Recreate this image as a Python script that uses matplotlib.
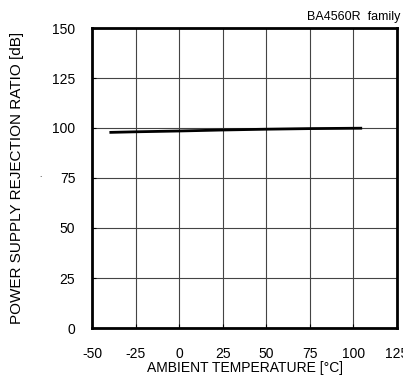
import matplotlib
matplotlib.use("Agg")
import matplotlib.pyplot as plt

temp = [-40, -25, 0, 25, 50, 75, 105]
psrr = [97.8, 98.1, 98.5, 99.0, 99.4, 99.7, 99.9]

xticks = [-50, -25, 0, 25, 50, 75, 100, 125]
yticks = [0, 25, 50, 75, 100, 125, 150]

plt.rcParams['font.family'] = ['Liberation Sans', 'DejaVu Sans']
plt.rcParams['axes.unicode_minus'] = False

fig = plt.figure(figsize=(4.03, 3.78), dpi=100)
ax = fig.add_axes([92 / 403, 1 - 328 / 378, 305 / 403, 300 / 378])

ax.plot(temp, psrr, color='black', lw=2.0, solid_capstyle='butt')

ax.set_xlim(-50, 125)
ax.set_ylim(0, 150)
ax.set_xticks(xticks)
ax.set_yticks(yticks)
ax.grid(True, color='#444444', lw=0.8)
ax.tick_params(direction='in', length=3, width=0.8, labelsize=10, pad=12)
ax.tick_params(axis='x', pad=14)
for s in ax.spines.values():
    s.set_linewidth(2.0)

ax.set_xlabel('AMBIENT TEMPERATURE [°C]', fontsize=10, labelpad=0)
ax.set_ylabel('POWER SUPPLY REJECTION RATIO [dB]', fontsize=11, labelpad=20)
fig.text(400 / 403, 1 - 20 / 378, 'BA4560R  family', ha='right',
         va='baseline', fontsize=9)
fig.text(40 / 403, 1 - 175 / 378, '.', fontsize=6, ha='center', va='center')

fig.savefig('out.png', dpi=100)
